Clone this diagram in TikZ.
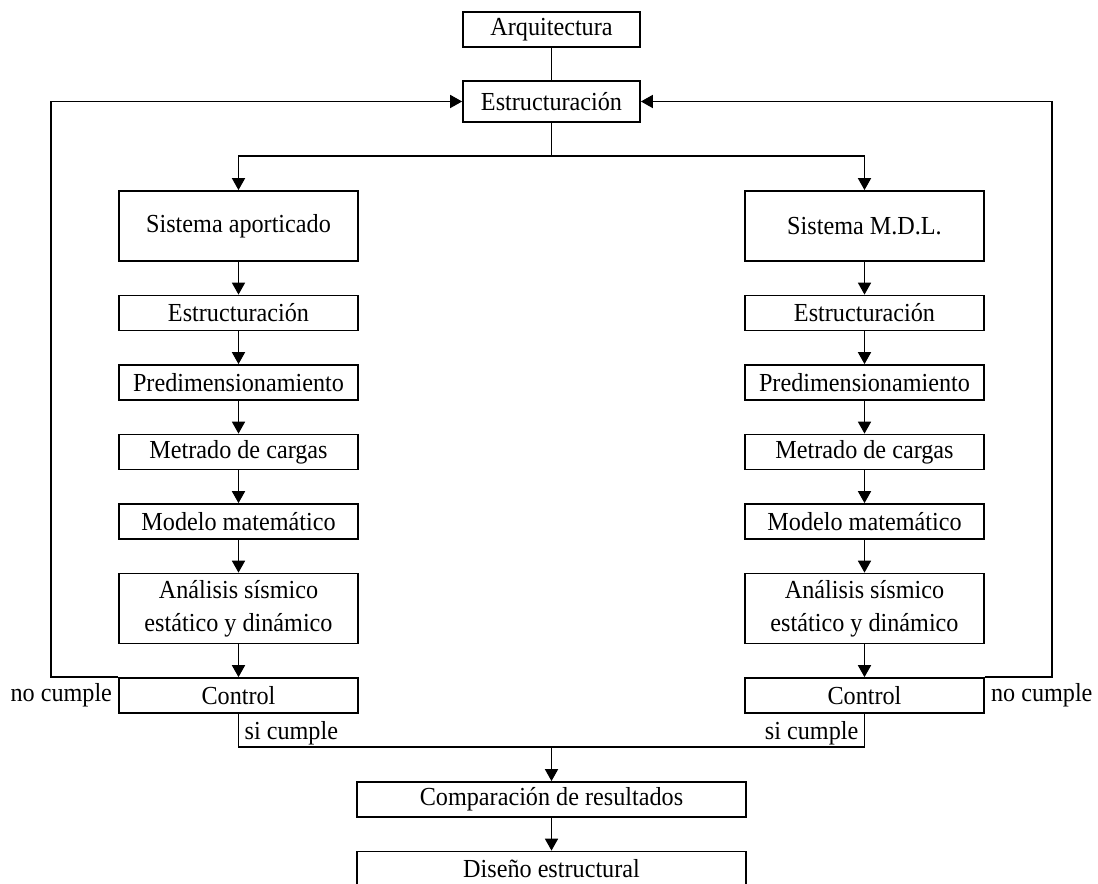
\documentclass[tikz,border=0pt]{standalone}
\usepackage{fontspec}
\setmainfont{Liberation Serif}[FakeStretch=0.93]
\usetikzlibrary{arrows.meta, positioning}

\begin{document}
\begin{tikzpicture}[
  caja/.style={draw, rectangle, minimum width=3.54cm, minimum height=0.7cm, inner sep=0pt},
  cajasis/.style={caja, minimum width=4.78cm},
  flecha/.style={-{Triangle[length=2.4mm,width=2.6mm]}},
  etiqueta/.style={inner sep=3pt},
  node distance=0.655cm,
  line width=1pt,
  font=\fontsize{14.8}{18.8}\selectfont]

  \clip (0,0) rectangle (21.96,-17.68);

  \node[caja] (arq) at (11.03,-0.59) {Arquitectura};
  \node[caja, minimum height=0.82cm] (estr) at (11.03,-2.03) {Estructuración};
  \coordinate (split) at (11.03,-3.12);
  \coordinate (loopA) at (1.02,0);
  \coordinate (loopM) at (21.04,0);

  % sistema aporticado
  \node[cajasis, minimum height=1.4cm] (sisA) at (4.77,-4.52) {Sistema aporticado};
  \node[cajasis, below=of sisA] (estrA) {Estructuración};
  \node[cajasis, below=of estrA] (preA) {Predimensionamiento};
  \node[cajasis, below=of preA] (metA) {Metrado de cargas};
  \node[cajasis, below=of metA] (modA) {Modelo matemático};
  \node[cajasis, below=of modA, minimum height=1.4cm, align=center] (anaA) {Análisis sísmico\\estático y dinámico};
  \node[cajasis, below=of anaA] (ctrlA) {Control};

  % sistema M.D.L.
  \node[cajasis, minimum height=1.4cm] (sisM) at (17.29,-4.52) {Sistema M.D.L.};
  \node[cajasis, below=of sisM] (estrM) {Estructuración};
  \node[cajasis, below=of estrM] (preM) {Predimensionamiento};
  \node[cajasis, below=of preM] (metM) {Metrado de cargas};
  \node[cajasis, below=of metM] (modM) {Modelo matemático};
  \node[cajasis, below=of modM, minimum height=1.4cm, align=center] (anaM) {Análisis sísmico\\estático y dinámico};
  \node[cajasis, below=of anaM] (ctrlM) {Control};

  \coordinate (merge) at (11.03,-14.94);
  \node[caja, minimum width=7.78cm] (comp) at (11.03,-15.99) {Comparación de resultados};
  \node[caja, minimum width=7.78cm, below=of comp] (dis) {Diseño estructural};

  \node[etiqueta, left=0pt of ctrlA.west] (noA) {no cumple};
  \node[etiqueta, right=0pt of ctrlM.east] (noM) {no cumple};
  \node[etiqueta, inner ysep=0.5pt, anchor=south west] (siA) at (ctrlA.south |- merge) {si cumple};
  \node[etiqueta, inner ysep=0.5pt, anchor=south east] (siM) at (ctrlM.south |- merge) {si cumple};

  \draw (arq) -- (estr);
  \draw (estr) -- (split);
  \draw[flecha] (split) -| (sisA);
  \draw[flecha] (split) -| (sisM);

  \draw[flecha] (sisA) -- (estrA);
  \draw[flecha] (estrA) -- (preA);
  \draw[flecha] (preA) -- (metA);
  \draw[flecha] (metA) -- (modA);
  \draw[flecha] (modA) -- (anaA);
  \draw[flecha] (anaA) -- (ctrlA);

  \draw[flecha] (sisM) -- (estrM);
  \draw[flecha] (estrM) -- (preM);
  \draw[flecha] (preM) -- (metM);
  \draw[flecha] (metM) -- (modM);
  \draw[flecha] (modM) -- (anaM);
  \draw[flecha] (anaM) -- (ctrlM);

  % retornos
  \draw[flecha] (ctrlA.north west) -- (ctrlA.north west -| loopA) -- (estr.west -| loopA) -- (estr.west);
  \draw[flecha] (ctrlM.north east) -- (ctrlM.north east -| loopM) -- (estr.east -| loopM) -- (estr.east);

  \draw (ctrlA) |- (merge);
  \draw (ctrlM) |- (merge);
  \draw[flecha] (merge) -- (comp);
  \draw[flecha] (comp) -- (dis);
\end{tikzpicture}
\end{document}
